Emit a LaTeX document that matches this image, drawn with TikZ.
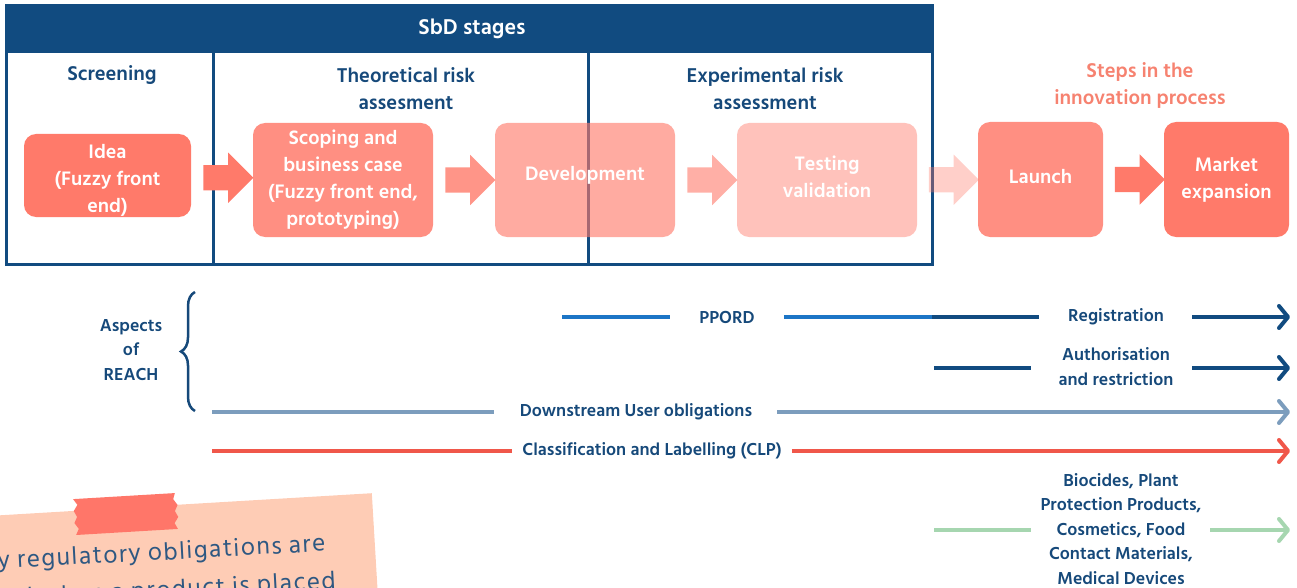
\documentclass[tikz,border=0pt]{standalone}
\usepackage{fontspec}
\setmainfont{Hind Siliguri}
\newfontfamily\notefont[LetterSpace=6]{Hind Siliguri}
\usetikzlibrary{arrows.meta,decorations.pathreplacing,shapes.arrows,calc}
\definecolor{navy}{RGB}{17,75,128}
\definecolor{labelblue}{RGB}{22,73,122}
\definecolor{salmon}{RGB}{255,122,106}
\definecolor{stepstext}{RGB}{246,130,112}
\definecolor{ppordblue}{RGB}{28,117,198}
\definecolor{dsublue}{RGB}{124,157,189}
\definecolor{clpred}{RGB}{240,87,74}
\definecolor{greenline}{RGB}{166,214,176}
\definecolor{peach}{RGB}{254,204,181}
\definecolor{tapered}{RGB}{255,118,105}
\definecolor{notetext}{RGB}{46,88,130}
\newcommand\lowpad[1]{\rule[-#1]{0pt}{#1}}
\newcommand\toppad[1]{\rule{0pt}{#1}}
\begin{document}
\begin{tikzpicture}[x=1pt,y=-1pt,
  stageline/.style={draw=navy, line width=3pt},
  stagelabel/.style={text=labelblue, font=\bfseries\fontsize{20.5}{27}\selectfont, align=center, inner sep=0pt},
  stepbox/.style={rounded corners=12pt, fill=salmon, text=white, text opacity=1,
    font=\bfseries\fontsize{20}{27}\selectfont, align=center, inner sep=0pt},
  barrow/.style={shape=single arrow, single arrow head extend=12.5pt, inner xsep=0pt,
    inner ysep=12.5pt, minimum height=50pt, minimum width=50pt, fill=salmon, draw=none},
  reach/.style={text=labelblue, font=\bfseries\fontsize{17.8}{24.5}\selectfont, align=center, inner sep=0pt},
  notetxt/.style={text=notetext, font=\notefont\fontsize{25}{30}\selectfont, rotate=3.1, anchor=base west, inner sep=0pt},
  aline/.style={line width=4pt},
  tip/.style={-{Straight Barb[length=9pt,width=22pt,line cap=round,line join=round]}},
]
\useasboundingbox (0,0) rectangle (1297,588);

% ---------- SbD frame ----------
\fill[navy] (6,6) rectangle (932,53);
\draw[stageline] (6,6) rectangle (932,264);
\draw[stageline] (213,53) -- (213,264);
\draw[stageline] (588,53) -- (588,264);
\node[text=white, font=\bfseries\fontsize{22}{24}\selectfont, inner sep=0pt] (sbd) at (472,29) {SbD stages};

\node[stagelabel] (screen) at (112,75) {Screening};
\node[stagelabel] (theo) at (406,89) {Theoretical risk\\assesment};
\node[stagelabel] (exper) at (765,89) {Experimental risk\\assessment};
\node[stagelabel, text=stepstext] (steps) at (1140,85.5) {Steps in the\\innovation process};

% ---------- innovation steps ----------
\node[stepbox, minimum width=167pt, minimum height=83pt] (idea) at (107.5,175.5) {\toppad{24pt}Idea\\(Fuzzy front\\end)};
\node[stepbox, fill opacity=0.84, minimum width=180pt, minimum height=114pt] (scope) at (343,180) {Scoping and\\business case\\(Fuzzy front end,\\prototyping)};
\node[stepbox, fill opacity=0.63, minimum width=180pt, minimum height=114pt] (devel) at (585,180) {Development\lowpad{14pt}};
\node[stepbox, fill opacity=0.46, minimum width=180pt, minimum height=114pt] (test) at (827,180) {Testing\\validation\lowpad{6pt}};
\node[stepbox, fill opacity=0.84, minimum width=125pt, minimum height=115pt] (launch) at (1040.5,179.5) {Launch\lowpad{6pt}};
\node[stepbox, minimum width=125pt, minimum height=115pt] (market) at (1226.5,179.5) {Market\\expansion};

\node[barrow] (a1) at ($(idea.east)!0.5!(scope.west)$ |- 0,175) {};
\node[barrow, fill opacity=0.8] (a2) at ($(scope.east)!0.5!(devel.west)$ |- 0,175) {};
\node[barrow, fill opacity=0.6] (a3) at ($(devel.east)!0.5!(test.west)$ |- 0,175) {};
\node[barrow, fill opacity=0.36] (a4) at ($(test.east)!0.5!(launch.west)$ |- 0,175) {};
\node[barrow] (a5) at ($(launch.east)!0.5!(market.west)$ |- 0,175) {};

% ---------- aspects of REACH ----------
\node[reach] (aspects) at (131,350) {Aspects\\of\\REACH};
\coordinate (braceb) at (195,411);
\coordinate (bracet) at (195,292);
\draw[labelblue, line width=2.5pt, decorate, decoration={brace, amplitude=14pt}] (braceb) -- (bracet);

% PPORD / Registration
\node[reach] (ppord) at (727,317) {PPORD};
\node[reach] (reg) at (1116,317) {Registration};
\coordinate (p0) at (562,317);
\coordinate (p1) at (932,317);
\coordinate (e1) at (1290,317);
\draw[aline, ppordblue] (p0) -- ([xshift=-29pt]ppord.west);
\draw[aline, ppordblue] ([xshift=29pt]ppord.east) -- (p1);
\draw[aline, navy] (p1) -- ([xshift=-29pt]reg.west);
\draw[aline, navy, tip] ([xshift=28pt]reg.east) -- (e1);

% Authorisation
\node[reach] (auth) at (1116,366.5) {Authorisation\\and restriction};
\coordinate (q0) at (934,368);
\coordinate (q1) at (1031,368);
\coordinate (q2) at (1192,368);
\coordinate (e2) at (1290,368);
\draw[aline, navy] (q0) -- (q1);
\draw[aline, navy, tip] (q2) -- (e2);

% Downstream user
\node[reach] (dsu) at (636,412) {Downstream User obligations};
\coordinate (d0) at (212,412);
\coordinate (e3) at (1290,412);
\draw[aline, dsublue] (d0) -- ([xshift=-26pt]dsu.west);
\draw[aline, dsublue, tip] ([xshift=25pt]dsu.east) -- (e3);

% CLP
\node[reach] (clp) at (652,451) {Classification and Labelling (CLP)};
\coordinate (c0) at (212,451);
\coordinate (e4) at (1290,451);
\draw[aline, clpred] (c0) -- ([xshift=-10pt]clp.west);
\draw[aline, clpred, tip] ([xshift=10pt]clp.east) -- (e4);

% other legislation
\node[reach] (other) at (1121,529) {Biocides, Plant\\Protection Products,\\Cosmetics, Food\\Contact Materials,\\Medical Devices};
\coordinate (g0) at (934,530);
\coordinate (g1) at (1031,530);
\coordinate (g2) at (1210,530);
\coordinate (e5) at (1290,530);
\draw[aline, greenline] (g0) -- (g1);
\draw[aline, greenline, tip] (g2) -- (e5);

% ---------- sticky note ----------
\node[fill=peach, rotate=3.4, anchor=north east, minimum width=420pt, minimum height=140pt, inner sep=0pt] (note) at (372,493) {};
\begin{scope}[shift={(126,514)}, rotate=3.4]
  \fill[tapered] (-52,-18) -- (50,-18) -- (48,-12) -- (52,-6) -- (49,0) -- (52,6) -- (48,12) -- (51,18)
    -- (-51,18) -- (-48,12) -- (-52,6) -- (-49,0) -- (-52,-6) -- (-48,-12) -- cycle;
\end{scope}
\node[notetxt] (note1) at (-2,569) {y regulatory obligations are};
\node[notetxt] (note2) at (-5,607) {red when a product is placed};
\end{tikzpicture}
\end{document}
